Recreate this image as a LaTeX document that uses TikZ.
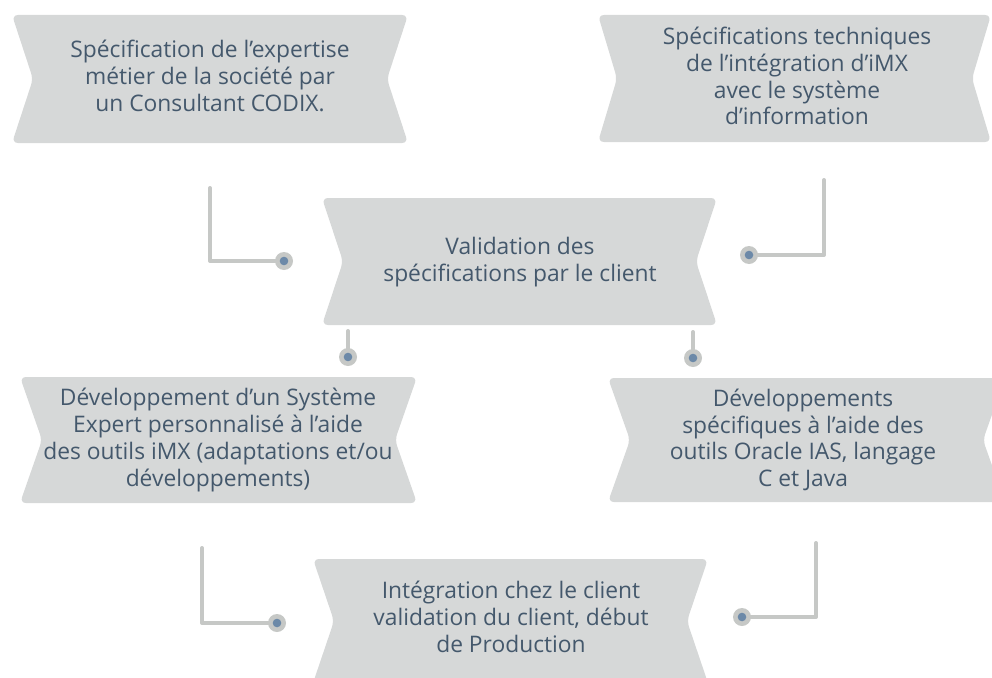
\documentclass[tikz,border=0pt]{standalone}
\usepackage{fontspec}
\setmainfont{Open Sans}
\definecolor{boxfill}{HTML}{D6D8D8}
\definecolor{linegray}{HTML}{C6C8C6}
\definecolor{dotblue}{HTML}{6C89A8}
\definecolor{txt}{HTML}{44586C}
\newcommand\myribbon[5]{% x1 x2 ytop ybot depth
  \fill[boxfill,rounded corners=6pt] ({#1+#5},{(#3+#4)/2}) -- (#1,#3) -- (#2,#3) -- ({#2-#5},{(#3+#4)/2}) -- (#2,#4) -- (#1,#4) -- cycle;}
\newcommand\mydot[1]{\fill[linegray] (#1) circle (9pt); \fill[dotblue] (#1) circle (4.3pt);}
\begin{document}
\begin{tikzpicture}[x=1pt,y=-1pt,
  ribbontext/.style={align=center,text=txt,font=\fontsize{22.8}{26.8}\selectfont,inner sep=0pt},
  conn/.style={draw=linegray,line width=4pt,line cap=round,line join=round}]
\useasboundingbox (0,0) rectangle (992,677);
\clip (0,0) rectangle (992,677);
% ribbons
\myribbon{12}{408}{15}{143}{21}
\myribbon{598}{991}{15}{142}{19}
\myribbon{322}{717}{198}{325}{21}
\myribbon{20}{417}{377}{503}{22}
\myribbon{608}{1005}{378}{502}{22}
\myribbon{313}{708}{559}{683}{21}
% texts
\node[ribbontext] (t1) at (210,76) {Spécification de l’expertise\\métier de la société par\\un Consultant CODIX.};
\node[ribbontext] (t2) at (797,76) {Spécifications techniques\\de l’intégration d’iMX\\avec le système\\d’information};
\node[ribbontext] (t3) at (520,262) {Validation des\\spécifications par le client};
\node[ribbontext] (t4) at (218,440) {Développement d’un Système\\Expert personnalisé à l’aide\\des outils iMX (adaptations et/ou\\développements)};
\node[ribbontext] (t5) at (803,440) {Développements\\spécifiques à l’aide des\\outils Oracle IAS, langage\\C et Java};
\node[ribbontext] (t6) at (511,617) {Intégration chez le client\\validation du client, début\\de Production};
% connector coordinates
\coordinate (a1) at (210,188);
\coordinate (a2) at (210,261);
\coordinate (a3) at (284,261);
\coordinate (b1) at (824,180);
\coordinate (b2) at (824,255);
\coordinate (b3) at (749,255);
\coordinate (c1) at (348,331);
\coordinate (c2) at (348,357);
\coordinate (d1) at (693,332);
\coordinate (d2) at (693,358);
\coordinate (e1) at (202,548);
\coordinate (e2) at (202,623);
\coordinate (e3) at (277,623);
\coordinate (f1) at (816,543);
\coordinate (f2) at (816,617);
\coordinate (f3) at (742,617);
\draw[conn] (a1) -- (a2) -- (a3);
\draw[conn] (b1) -- (b2) -- (b3);
\draw[conn] (c1) -- (c2);
\draw[conn] (d1) -- (d2);
\draw[conn] (e1) -- (e2) -- (e3);
\draw[conn] (f1) -- (f2) -- (f3);
\mydot{a3}\mydot{b3}\mydot{c2}\mydot{d2}\mydot{e3}\mydot{f3}
\end{tikzpicture}
\end{document}
